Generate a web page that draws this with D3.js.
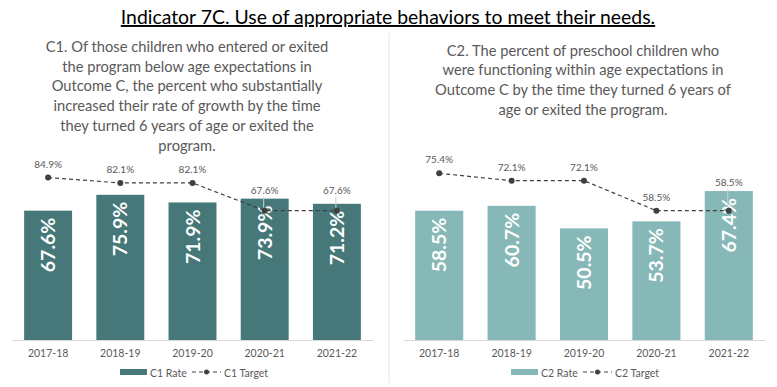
<!DOCTYPE html>
<html>
<head>
<meta charset="utf-8">
<script src="https://cdn.jsdelivr.net/npm/d3@7/dist/d3.min.js"></script>
<style>
  body { margin: 0; background: #fff; }
  svg { display: block; font-family: Lato, "Open Sans", sans-serif; }
</style>
</head>
<body>
<div id="chart"></div>
<script>
// data
var years = ["2017-18", "2018-19", "2019-20", "2020-21", "2021-22"];
var c1Rate = [67.6, 75.9, 71.9, 73.9, 71.2];
var c1Target = [84.9, 82.1, 82.1, 67.6, 67.6];
var c2Rate = [58.5, 60.7, 50.5, 53.7, 67.4];
var c2Target = [75.4, 72.1, 72.1, 58.5, 58.5];

var mainTitle = "Indicator 7C. Use of appropriate behaviors to meet their needs.";
var c1Title = [
  "C1. Of those children who entered or exited",
  "the program below age expectations in",
  "Outcome C, the percent who substantially",
  "increased their rate of growth by the time",
  "they turned 6 years of age or exited the",
  "program."
];
var c2Title = [
  "C2. The percent of preschool children who",
  "were functioning within age expectations in",
  "Outcome C by the time they turned 6 years of",
  "age or exited the program."
];

var svgWidth = 777;
var svgHeight = 387;
var grey = "#595959";

var svg = d3.select("#chart")
  .append("svg")
  .attr("width", svgWidth)
  .attr("height", svgHeight);

// main title
svg.append("text")
  .attr("x", 388)
  .attr("y", 24)
  .attr("text-anchor", "middle")
  .style("font-size", "19.4px")
  .style("fill", "#000")
  .style("text-decoration", "underline")
  .text(mainTitle);

// thin divider between the two charts
svg.append("line")
  .attr("x1", 389).attr("x2", 389)
  .attr("y1", 33).attr("y2", 383)
  .attr("stroke", "#e4e4e4")
  .attr("stroke-width", 1);

function drawPanel(p) {
  var g = svg.append("g");

  // subtitle
  g.selectAll(".sub")
    .data(p.title)
    .enter()
    .append("text")
    .attr("x", p.center)
    .attr("y", (d, i) => p.titleY + i * 19.7)
    .attr("text-anchor", "middle")
    .style("font-size", "14.7px")
    .style("fill", grey)
    .text(d => d);

  var xScale = d3.scaleBand()
    .domain(years)
    .range(p.xRange)
    .paddingInner(0.336)
    .paddingOuter(0.168);

  var yScale = d3.scaleLinear()
    .domain([0, 100])
    .range([340, p.yTop]);

  // x axis
  var xAxis = g.append("g")
    .attr("transform", "translate(0,340)")
    .call(d3.axisBottom(xScale).tickSize(0).tickPadding(10));
  xAxis.select(".domain").attr("stroke", "#d9d9d9");
  xAxis.selectAll("text")
    .style("font-size", "10.5px")
    .style("fill", grey)
    .style("font-family", "Lato, sans-serif");

  // bars
  g.selectAll(".bar")
    .data(p.rate)
    .enter()
    .append("rect")
    .attr("x", (d, i) => xScale(years[i]))
    .attr("y", d => yScale(d))
    .attr("width", xScale.bandwidth())
    .attr("height", d => 340 - yScale(d))
    .attr("fill", p.color);

  // bar value labels, rotated, inside end
  g.selectAll(".barlabel")
    .data(p.rate)
    .enter()
    .append("text")
    .attr("transform", (d, i) => {
      var cx = xScale(years[i]) + xScale.bandwidth() / 2;
      return `translate(${cx},${yScale(d) + 7}) rotate(-90)`;
    })
    .attr("dy", "0.36em")
    .attr("text-anchor", "end")
    .style("font-size", "19.5px")
    .style("font-weight", "bold")
    .style("fill", "#fff")
    .text(d => d.toFixed(1) + "%");

  // target line
  var line = d3.line()
    .x((d, i) => xScale(years[i]) + xScale.bandwidth() / 2)
    .y(d => yScale(d));

  g.append("path")
    .datum(p.target)
    .attr("d", line)
    .attr("fill", "none")
    .attr("stroke", "#404040")
    .attr("stroke-width", 1.2)
    .attr("stroke-dasharray", "4,3");

  g.selectAll(".dot")
    .data(p.target)
    .enter()
    .append("circle")
    .attr("cx", (d, i) => xScale(years[i]) + xScale.bandwidth() / 2)
    .attr("cy", d => yScale(d))
    .attr("r", 3)
    .attr("fill", "#404040");

  // target labels, some lifted with a leader line
  p.target.forEach(function(d, i) {
    var cx = xScale(years[i]) + xScale.bandwidth() / 2;
    var cy = yScale(d);
    var lift = p.lifted.indexOf(i) >= 0 ? p.liftBy : 10;
    if (p.lifted.indexOf(i) >= 0) {
      g.append("line")
        .attr("x1", cx - 1).attr("x2", cx - 1)
        .attr("y1", cy - lift + 3).attr("y2", cy - 3)
        .attr("stroke", "#d0d0d0")
        .attr("stroke-width", 1);
    }
    g.append("text")
      .attr("x", cx)
      .attr("y", cy - lift)
      .attr("text-anchor", "middle")
      .style("font-size", "10px")
      .style("fill", grey)
      .text(d.toFixed(1) + "%");
  });

  // legend
  var lg = g.append("g")
    .attr("transform", `translate(${p.legendX},0)`);
  lg.append("rect")
    .attr("x", 0).attr("y", 369)
    .attr("width", 27).attr("height", 6)
    .attr("fill", p.color);
  lg.append("text")
    .attr("x", 30).attr("y", 376.5)
    .style("font-size", "10.5px")
    .style("fill", grey)
    .text(p.name + " Rate");
  lg.append("line")
    .attr("x1", 72).attr("x2", 101)
    .attr("y1", 372).attr("y2", 372)
    .attr("stroke", "#404040")
    .attr("stroke-width", 1.2)
    .attr("stroke-dasharray", "4,3");
  lg.append("circle")
    .attr("cx", 86.5).attr("cy", 372)
    .attr("r", 2.5)
    .attr("fill", "#404040");
  lg.append("text")
    .attr("x", 104).attr("y", 376.5)
    .style("font-size", "10.5px")
    .style("fill", grey)
    .text(p.name + " Target");
}

drawPanel({
  name: "C1",
  title: c1Title,
  titleY: 52,
  center: 187,
  legendX: 120,
  xRange: [12, 373],
  yTop: 148.7,
  rate: c1Rate,
  target: c1Target,
  color: "#46787A",
  lifted: [3, 4],
  liftBy: 17
});

drawPanel({
  name: "C2",
  title: c2Title,
  titleY: 55.5,
  center: 583,
  legendX: 511,
  xRange: [403, 765],
  yTop: 119,
  rate: c2Rate,
  target: c2Target,
  color: "#87B8B8",
  lifted: [4],
  liftBy: 25
});
</script>
</body>
</html>
